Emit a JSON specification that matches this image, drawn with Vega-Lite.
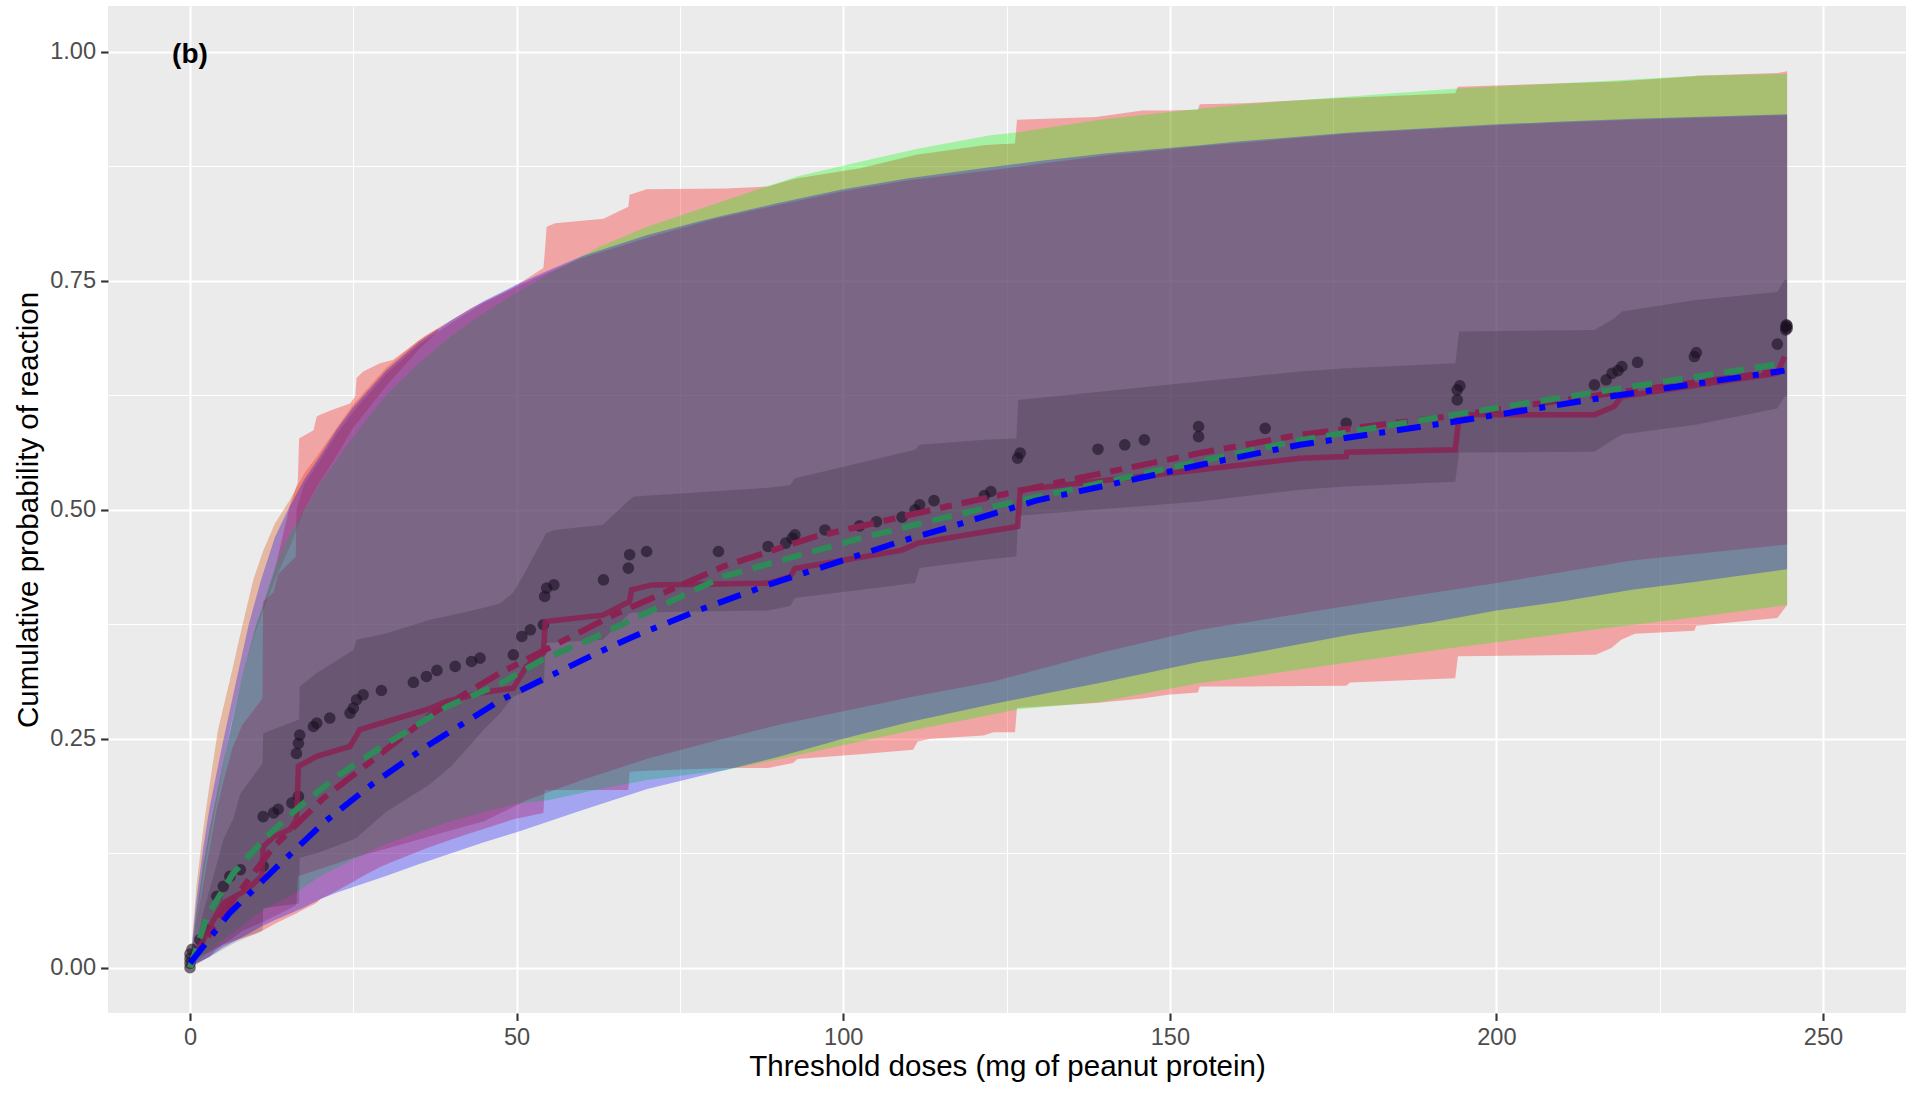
{
  "$schema": "https://vega.github.io/schema/vega-lite/v6.json",
  "width": 1798,
  "height": 1007,
  "autosize": {"type": "none"},
  "padding": {"left": 108, "top": 6, "right": 2, "bottom": 80},
  "background": "#FFFFFF",
  "config": {
    "view": {"fill": "#EBEBEB", "stroke": null},
    "font": "Liberation Sans",
    "axis": {
      "domain": false,
      "gridColor": "#FFFFFF",
      "tickColor": "#333333",
      "tickWidth": 2.1,
      "tickSize": 7.4,
      "labelColor": "#4D4D4D",
      "labelFont": "Liberation Sans",
      "labelFontSize": 23.6,
      "titleFont": "Liberation Sans",
      "titleFontSize": 29.5,
      "titleFontWeight": "normal",
      "titleColor": "#000000",
      "labelOverlap": false,
      "labelFlush": false
    }
  },
  "datasets": {
    "peach": [
      {"dose": 0, "lower": 0, "prob": 0}, {"dose": 1, "lower": 0.05, "prob": 0.09}, {"dose": 2, "lower": 0.1, "prob": 0.15},
      {"dose": 3, "lower": 0.14, "prob": 0.2}, {"dose": 4.3, "lower": 0.19, "prob": 0.26}, {"dose": 6.1, "lower": 0.26, "prob": 0.314},
      {"dose": 7.9, "lower": 0.314, "prob": 0.37}, {"dose": 9.7, "lower": 0.36, "prob": 0.424}, {"dose": 11.2, "lower": 0.39, "prob": 0.455},
      {"dose": 13, "lower": 0.424, "prob": 0.485}, {"dose": 15.3, "lower": 0.46, "prob": 0.511}, {"dose": 17.5, "lower": 0.5, "prob": 0.54},
      {"dose": 19.4, "lower": 0.525, "prob": 0.558}, {"dose": 22.5, "lower": 0.56, "prob": 0.59}, {"dose": 25, "lower": 0.59, "prob": 0.615},
      {"dose": 30, "lower": 0.635, "prob": 0.655}, {"dose": 35, "lower": 0.675, "prob": 0.685}, {"dose": 38, "lower": 0.695, "prob": 0.698}
    ],
    "red": [
      {"dose": 0, "lower": 0, "prob": 0}, {"dose": 0.5, "lower": 0.009, "prob": 0.03}, {"dose": 1, "lower": 0.011, "prob": 0.06},
      {"dose": 2, "lower": 0.014, "prob": 0.11}, {"dose": 3, "lower": 0.017, "prob": 0.15}, {"dose": 5, "lower": 0.025, "prob": 0.22},
      {"dose": 7.9, "lower": 0.032, "prob": 0.314}, {"dose": 10, "lower": 0.037, "prob": 0.37}, {"dose": 11.2, "lower": 0.041, "prob": 0.395},
      {"dose": 13, "lower": 0.048, "prob": 0.435}, {"dose": 15.3, "lower": 0.056, "prob": 0.505}, {"dose": 16.5, "lower": 0.06, "prob": 0.53},
      {"dose": 16.7, "lower": 0.061, "prob": 0.578}, {"dose": 18.9, "lower": 0.069, "prob": 0.587}, {"dose": 19.4, "lower": 0.071, "prob": 0.602},
      {"dose": 20, "lower": 0.075, "prob": 0.604}, {"dose": 21.7, "lower": 0.081, "prob": 0.609}, {"dose": 24.5, "lower": 0.092, "prob": 0.616},
      {"dose": 25.3, "lower": 0.095, "prob": 0.624}, {"dose": 25.5, "lower": 0.096, "prob": 0.644}, {"dose": 26.5, "lower": 0.1, "prob": 0.651},
      {"dose": 29.1, "lower": 0.11, "prob": 0.66}, {"dose": 31.1, "lower": 0.116, "prob": 0.664}, {"dose": 36, "lower": 0.13, "prob": 0.69},
      {"dose": 40, "lower": 0.14, "prob": 0.707}, {"dose": 43, "lower": 0.147, "prob": 0.72}, {"dose": 49.5, "lower": 0.162, "prob": 0.743},
      {"dose": 54.1, "lower": 0.169, "prob": 0.764}, {"dose": 54.3, "lower": 0.194, "prob": 0.78}, {"dose": 54.6, "lower": 0.194, "prob": 0.809},
      {"dose": 55.9, "lower": 0.194, "prob": 0.813}, {"dose": 63.3, "lower": 0.194, "prob": 0.818}, {"dose": 67.1, "lower": 0.194, "prob": 0.831},
      {"dose": 67.3, "lower": 0.214, "prob": 0.844}, {"dose": 69.9, "lower": 0.215, "prob": 0.85}, {"dose": 82, "lower": 0.218, "prob": 0.851},
      {"dose": 88.5, "lower": 0.218, "prob": 0.853}, {"dose": 92.3, "lower": 0.2235, "prob": 0.861}, {"dose": 93, "lower": 0.228, "prob": 0.862},
      {"dose": 102.6, "lower": 0.233, "prob": 0.873}, {"dose": 110.7, "lower": 0.238, "prob": 0.887}, {"dose": 111.4, "lower": 0.247, "prob": 0.888},
      {"dose": 113.4, "lower": 0.25, "prob": 0.89}, {"dose": 121.5, "lower": 0.2535, "prob": 0.898}, {"dose": 123, "lower": 0.257, "prob": 0.899},
      {"dose": 126.3, "lower": 0.257, "prob": 0.9}, {"dose": 126.6, "lower": 0.2835, "prob": 0.926}, {"dose": 138.7, "lower": 0.289, "prob": 0.929},
      {"dose": 145.8, "lower": 0.294, "prob": 0.936}, {"dose": 149.7, "lower": 0.298, "prob": 0.936}, {"dose": 154.3, "lower": 0.3006, "prob": 0.937},
      {"dose": 154.6, "lower": 0.307, "prob": 0.943}, {"dose": 161.4, "lower": 0.307, "prob": 0.944}, {"dose": 177, "lower": 0.3078, "prob": 0.95},
      {"dose": 177.6, "lower": 0.3115, "prob": 0.95}, {"dose": 193.7, "lower": 0.316, "prob": 0.955}, {"dose": 194.1, "lower": 0.34, "prob": 0.962},
      {"dose": 215.2, "lower": 0.3417, "prob": 0.967}, {"dose": 217.6, "lower": 0.349, "prob": 0.9675}, {"dose": 219.1, "lower": 0.358, "prob": 0.968},
      {"dose": 221.2, "lower": 0.3646, "prob": 0.969}, {"dose": 230.3, "lower": 0.368, "prob": 0.9736}, {"dose": 230.6, "lower": 0.3734, "prob": 0.974},
      {"dose": 243, "lower": 0.3818, "prob": 0.977}, {"dose": 244.5, "lower": 0.396, "prob": 0.979}
    ],
    "green": [
      {"dose": 0, "lower": 0, "prob": 0}, {"dose": 1, "lower": 0.006, "prob": 0.062}, {"dose": 2, "lower": 0.012, "prob": 0.112},
      {"dose": 3, "lower": 0.018, "prob": 0.152}, {"dose": 5, "lower": 0.03, "prob": 0.222}, {"dose": 7.9, "lower": 0.045, "prob": 0.316},
      {"dose": 10, "lower": 0.057, "prob": 0.372}, {"dose": 13, "lower": 0.07, "prob": 0.437}, {"dose": 15, "lower": 0.077, "prob": 0.47},
      {"dose": 17.5, "lower": 0.088, "prob": 0.5}, {"dose": 20, "lower": 0.1, "prob": 0.53}, {"dose": 25, "lower": 0.118, "prob": 0.58},
      {"dose": 30, "lower": 0.135, "prob": 0.625}, {"dose": 35, "lower": 0.148, "prob": 0.66}, {"dose": 40, "lower": 0.16, "prob": 0.69},
      {"dose": 45, "lower": 0.17, "prob": 0.715}, {"dose": 50, "lower": 0.179, "prob": 0.737}, {"dose": 55, "lower": 0.183, "prob": 0.758},
      {"dose": 62.8, "lower": 0.195, "prob": 0.7875}, {"dose": 70, "lower": 0.205, "prob": 0.809}, {"dose": 82, "lower": 0.216, "prob": 0.838},
      {"dose": 87.8, "lower": 0.224, "prob": 0.852}, {"dose": 92.9, "lower": 0.232, "prob": 0.864}, {"dose": 102.6, "lower": 0.247, "prob": 0.88},
      {"dose": 111.2, "lower": 0.26, "prob": 0.894}, {"dose": 122.5, "lower": 0.276, "prob": 0.909}, {"dose": 126.5, "lower": 0.282, "prob": 0.912},
      {"dose": 139.3, "lower": 0.29, "prob": 0.926}, {"dose": 154.6, "lower": 0.311, "prob": 0.938}, {"dose": 161.4, "lower": 0.317, "prob": 0.943},
      {"dose": 177, "lower": 0.333, "prob": 0.951}, {"dose": 194, "lower": 0.35, "prob": 0.96}, {"dose": 216, "lower": 0.37, "prob": 0.968},
      {"dose": 230.7, "lower": 0.383, "prob": 0.974}, {"dose": 244.5, "lower": 0.396, "prob": 0.976}
    ],
    "blue": [
      {"dose": 0, "lower": 0, "prob": 0}, {"dose": 0.5, "lower": 0.003, "prob": 0.04}, {"dose": 1, "lower": 0.005, "prob": 0.075},
      {"dose": 2, "lower": 0.008, "prob": 0.13}, {"dose": 3, "lower": 0.012, "prob": 0.175}, {"dose": 5, "lower": 0.022, "prob": 0.245},
      {"dose": 7.1, "lower": 0.03, "prob": 0.314}, {"dose": 9, "lower": 0.037, "prob": 0.375}, {"dose": 10.9, "lower": 0.045, "prob": 0.424},
      {"dose": 13, "lower": 0.052, "prob": 0.47}, {"dose": 15, "lower": 0.058, "prob": 0.5}, {"dose": 17.5, "lower": 0.066, "prob": 0.533},
      {"dose": 20, "lower": 0.075, "prob": 0.56}, {"dose": 22.5, "lower": 0.082, "prob": 0.588}, {"dose": 25, "lower": 0.088, "prob": 0.612},
      {"dose": 30, "lower": 0.1, "prob": 0.652}, {"dose": 35, "lower": 0.113, "prob": 0.683}, {"dose": 40, "lower": 0.125, "prob": 0.707},
      {"dose": 45, "lower": 0.137, "prob": 0.728}, {"dose": 50, "lower": 0.148, "prob": 0.746}, {"dose": 55, "lower": 0.16, "prob": 0.762},
      {"dose": 60, "lower": 0.172, "prob": 0.777}, {"dose": 70, "lower": 0.195, "prob": 0.8}, {"dose": 78, "lower": 0.209, "prob": 0.815},
      {"dose": 82, "lower": 0.216, "prob": 0.822}, {"dose": 90, "lower": 0.23, "prob": 0.835}, {"dose": 100, "lower": 0.25, "prob": 0.85},
      {"dose": 110, "lower": 0.268, "prob": 0.862}, {"dose": 122.4, "lower": 0.287, "prob": 0.874}, {"dose": 130, "lower": 0.298, "prob": 0.881},
      {"dose": 140, "lower": 0.312, "prob": 0.889}, {"dose": 154.6, "lower": 0.334, "prob": 0.898}, {"dose": 160, "lower": 0.34, "prob": 0.902},
      {"dose": 177.6, "lower": 0.3635, "prob": 0.912}, {"dose": 190, "lower": 0.377, "prob": 0.917}, {"dose": 200, "lower": 0.39, "prob": 0.921},
      {"dose": 210, "lower": 0.4, "prob": 0.924}, {"dose": 221, "lower": 0.413, "prob": 0.927}, {"dose": 230, "lower": 0.421, "prob": 0.929},
      {"dose": 244.5, "lower": 0.435, "prob": 0.932}
    ],
    "violet": [
      {"dose": 0, "lower": 0, "prob": 0}, {"dose": 1, "lower": 0.004, "prob": 0.05}, {"dose": 2, "lower": 0.008, "prob": 0.09},
      {"dose": 3, "lower": 0.012, "prob": 0.13}, {"dose": 4, "lower": 0.02, "prob": 0.17}, {"dose": 5, "lower": 0.025, "prob": 0.2},
      {"dose": 6.5, "lower": 0.032, "prob": 0.24}, {"dose": 8, "lower": 0.04, "prob": 0.265}, {"dose": 11.1, "lower": 0.05, "prob": 0.294},
      {"dose": 11.2, "lower": 0.05, "prob": 0.4}, {"dose": 12.8, "lower": 0.056, "prob": 0.41}, {"dose": 13.5, "lower": 0.058, "prob": 0.43},
      {"dose": 16.2, "lower": 0.068, "prob": 0.449}, {"dose": 16.3, "lower": 0.07, "prob": 0.5}, {"dose": 16.5, "lower": 0.1, "prob": 0.505},
      {"dose": 17.5, "lower": 0.102, "prob": 0.528}, {"dose": 20, "lower": 0.108, "prob": 0.555}, {"dose": 22.5, "lower": 0.114, "prob": 0.583},
      {"dose": 25, "lower": 0.12, "prob": 0.607}, {"dose": 30, "lower": 0.13, "prob": 0.648}, {"dose": 35, "lower": 0.14, "prob": 0.68},
      {"dose": 40, "lower": 0.15, "prob": 0.704}, {"dose": 45, "lower": 0.16, "prob": 0.726}, {"dose": 51.6, "lower": 0.183, "prob": 0.749},
      {"dose": 60, "lower": 0.205, "prob": 0.775}, {"dose": 70.4, "lower": 0.229, "prob": 0.798}, {"dose": 80, "lower": 0.247, "prob": 0.817},
      {"dose": 90, "lower": 0.265, "prob": 0.833}, {"dose": 100, "lower": 0.28, "prob": 0.848}, {"dose": 110, "lower": 0.295, "prob": 0.86},
      {"dose": 123, "lower": 0.3126, "prob": 0.871}, {"dose": 140, "lower": 0.345, "prob": 0.887}, {"dose": 154.6, "lower": 0.369, "prob": 0.897},
      {"dose": 177.6, "lower": 0.3955, "prob": 0.911}, {"dose": 200, "lower": 0.42, "prob": 0.92}, {"dose": 221, "lower": 0.445, "prob": 0.926},
      {"dose": 244.5, "lower": 0.462, "prob": 0.931}
    ],
    "inner": [
      {"dose": 0, "lower": 0, "prob": 0}, {"dose": 0.5, "lower": 0.002, "prob": 0.007}, {"dose": 2, "lower": 0.008, "prob": 0.06},
      {"dose": 3.6, "lower": 0.014, "prob": 0.1}, {"dose": 5.1, "lower": 0.02, "prob": 0.14}, {"dose": 6.6, "lower": 0.026, "prob": 0.162},
      {"dose": 7.7, "lower": 0.03, "prob": 0.19}, {"dose": 11.1, "lower": 0.04, "prob": 0.223}, {"dose": 11.2, "lower": 0.065, "prob": 0.256},
      {"dose": 16.7, "lower": 0.07, "prob": 0.271}, {"dose": 16.8, "lower": 0.12, "prob": 0.307}, {"dose": 19.4, "lower": 0.125, "prob": 0.3217},
      {"dose": 25, "lower": 0.14, "prob": 0.347}, {"dose": 25.5, "lower": 0.142, "prob": 0.358}, {"dose": 30, "lower": 0.17, "prob": 0.365},
      {"dose": 36.7, "lower": 0.2, "prob": 0.38}, {"dose": 40, "lower": 0.22, "prob": 0.385}, {"dose": 45, "lower": 0.26, "prob": 0.393},
      {"dose": 47.5, "lower": 0.278, "prob": 0.398}, {"dose": 49.5, "lower": 0.296, "prob": 0.41}, {"dose": 50.9, "lower": 0.3, "prob": 0.427},
      {"dose": 54.2, "lower": 0.311, "prob": 0.47}, {"dose": 54.4, "lower": 0.3545, "prob": 0.474}, {"dose": 55.7, "lower": 0.355, "prob": 0.478},
      {"dose": 63.2, "lower": 0.358, "prob": 0.4836}, {"dose": 67.3, "lower": 0.387, "prob": 0.511}, {"dose": 68, "lower": 0.388, "prob": 0.5145},
      {"dose": 88.5, "lower": 0.39, "prob": 0.524}, {"dose": 91.9, "lower": 0.395, "prob": 0.527}, {"dose": 92.6, "lower": 0.4036, "prob": 0.5346},
      {"dose": 111, "lower": 0.42, "prob": 0.5655}, {"dose": 111.7, "lower": 0.4364, "prob": 0.571}, {"dose": 121.6, "lower": 0.4454, "prob": 0.5765},
      {"dose": 126.5, "lower": 0.449, "prob": 0.578}, {"dose": 126.8, "lower": 0.4936, "prob": 0.62}, {"dose": 154.6, "lower": 0.509, "prob": 0.64},
      {"dose": 169.9, "lower": 0.5218, "prob": 0.651}, {"dose": 177, "lower": 0.5255, "prob": 0.6547}, {"dose": 193.7, "lower": 0.5306, "prob": 0.66},
      {"dose": 194.3, "lower": 0.5626, "prob": 0.6947}, {"dose": 215, "lower": 0.5633, "prob": 0.6965}, {"dose": 218, "lower": 0.577, "prob": 0.709},
      {"dose": 219.2, "lower": 0.5823, "prob": 0.7165}, {"dose": 230.5, "lower": 0.593, "prob": 0.729}, {"dose": 243, "lower": 0.6106, "prob": 0.738},
      {"dose": 244.1, "lower": 0.6237, "prob": 0.751}, {"dose": 244.5, "lower": 0.624, "prob": 0.751}
    ],
    "observed": [
      {"dose": 0, "prob": 0}, {"dose": 0, "prob": 0.005}, {"dose": 0, "prob": 0.01}, {"dose": 0, "prob": 0.015}, {"dose": 0.3, "prob": 0.02},
      {"dose": 1.5, "prob": 0.0306}, {"dose": 2.6, "prob": 0.041}, {"dose": 4.1, "prob": 0.078}, {"dose": 5.1, "prob": 0.0888}, {"dose": 6.1, "prob": 0.0997},
      {"dose": 7.7, "prob": 0.107}, {"dose": 11.2, "prob": 0.111}, {"dose": 11.2, "prob": 0.165}, {"dose": 12.8, "prob": 0.169}, {"dose": 13.5, "prob": 0.173},
      {"dose": 15.6, "prob": 0.18}, {"dose": 16.6, "prob": 0.187}, {"dose": 16.3, "prob": 0.234}, {"dose": 16.6, "prob": 0.245}, {"dose": 16.8, "prob": 0.254},
      {"dose": 18.9, "prob": 0.2634}, {"dose": 19.4, "prob": 0.267}, {"dose": 21.4, "prob": 0.2726}, {"dose": 24.5, "prob": 0.278}, {"dose": 25, "prob": 0.2835},
      {"dose": 25.5, "prob": 0.2926}, {"dose": 26.5, "prob": 0.298}, {"dose": 29.3, "prob": 0.3027}, {"dose": 34.2, "prob": 0.3115}, {"dose": 36.2, "prob": 0.318},
      {"dose": 37.8, "prob": 0.3246}, {"dose": 40.6, "prob": 0.329}, {"dose": 43.1, "prob": 0.3344}, {"dose": 44.4, "prob": 0.338}, {"dose": 49.5, "prob": 0.3417},
      {"dose": 50.8, "prob": 0.3617}, {"dose": 52.1, "prob": 0.369}, {"dose": 54.1, "prob": 0.3745}, {"dose": 54.3, "prob": 0.4054}, {"dose": 54.6, "prob": 0.4145},
      {"dose": 55.7, "prob": 0.418}, {"dose": 63.3, "prob": 0.4236}, {"dose": 67.1, "prob": 0.4363}, {"dose": 67.3, "prob": 0.451}, {"dose": 69.9, "prob": 0.4545},
      {"dose": 80.9, "prob": 0.4545}, {"dose": 88.5, "prob": 0.46}, {"dose": 91.2, "prob": 0.4636}, {"dose": 92.2, "prob": 0.469}, {"dose": 92.6, "prob": 0.4727},
      {"dose": 97.2, "prob": 0.478}, {"dose": 102.5, "prob": 0.4825}, {"dose": 105.1, "prob": 0.487}, {"dose": 109, "prob": 0.492}, {"dose": 111, "prob": 0.5},
      {"dose": 111.7, "prob": 0.5055}, {"dose": 113.9, "prob": 0.51}, {"dose": 121.6, "prob": 0.5156}, {"dose": 122.6, "prob": 0.52}, {"dose": 126.7, "prob": 0.5564},
      {"dose": 127.1, "prob": 0.5619}, {"dose": 139, "prob": 0.5662}, {"dose": 143.1, "prob": 0.571}, {"dose": 146.1, "prob": 0.5764}, {"dose": 154.4, "prob": 0.58},
      {"dose": 154.4, "prob": 0.591}, {"dose": 164.6, "prob": 0.589}, {"dose": 177, "prob": 0.5946}, {"dose": 194, "prob": 0.62}, {"dose": 194, "prob": 0.631},
      {"dose": 194.4, "prob": 0.6354}, {"dose": 215, "prob": 0.6365}, {"dose": 216.8, "prob": 0.642}, {"dose": 217.7, "prob": 0.649}, {"dose": 218.6, "prob": 0.652},
      {"dose": 219.2, "prob": 0.6565}, {"dose": 221.6, "prob": 0.661}, {"dose": 230.3, "prob": 0.6674}, {"dose": 230.6, "prob": 0.6717}, {"dose": 243, "prob": 0.681},
      {"dose": 244.3, "prob": 0.6965}, {"dose": 244.3, "prob": 0.7}, {"dose": 244.4, "prob": 0.702}, {"dose": 244.5, "prob": 0.698}, {"dose": 244.5, "prob": 0.701}
    ],
    "km": [
      {"dose": 0, "prob": 0}, {"dose": 0.5, "prob": 0.01}, {"dose": 2, "prob": 0.03}, {"dose": 3.6, "prob": 0.052}, {"dose": 5.1, "prob": 0.0706},
      {"dose": 8.7, "prob": 0.085}, {"dose": 11, "prob": 0.1}, {"dose": 11.2, "prob": 0.132}, {"dose": 12.8, "prob": 0.143}, {"dose": 15.3, "prob": 0.151},
      {"dose": 16.3, "prob": 0.1616}, {"dose": 16.6, "prob": 0.22}, {"dose": 19.4, "prob": 0.2307}, {"dose": 24.5, "prob": 0.2416}, {"dose": 26, "prob": 0.26},
      {"dose": 36.2, "prob": 0.2817}, {"dose": 39.3, "prob": 0.2907}, {"dose": 44.4, "prob": 0.3}, {"dose": 49.5, "prob": 0.3053}, {"dose": 51.5, "prob": 0.329},
      {"dose": 54.1, "prob": 0.3436}, {"dose": 54.4, "prob": 0.378}, {"dose": 63.2, "prob": 0.385}, {"dose": 67.3, "prob": 0.4}, {"dose": 67.6, "prob": 0.4127},
      {"dose": 70.7, "prob": 0.418}, {"dose": 88.5, "prob": 0.42}, {"dose": 91.9, "prob": 0.427}, {"dose": 92.6, "prob": 0.436}, {"dose": 109, "prob": 0.456},
      {"dose": 111.4, "prob": 0.4636}, {"dose": 122, "prob": 0.4763}, {"dose": 126.7, "prob": 0.4818}, {"dose": 127.1, "prob": 0.5218}, {"dose": 154.6, "prob": 0.5437},
      {"dose": 169.9, "prob": 0.5564}, {"dose": 177, "prob": 0.5582}, {"dose": 177.1, "prob": 0.5629}, {"dose": 193.7, "prob": 0.5655}, {"dose": 194.3, "prob": 0.6037},
      {"dose": 215, "prob": 0.6037}, {"dose": 218, "prob": 0.6128}, {"dose": 219.2, "prob": 0.6237}, {"dose": 229.3, "prob": 0.6346}, {"dose": 243, "prob": 0.6492},
      {"dose": 244.1, "prob": 0.6674}
    ],
    "fit_red": [
      {"dose": 0, "prob": 0}, {"dose": 0.5, "prob": 0.009}, {"dose": 4.6, "prob": 0.055}, {"dose": 12.8, "prob": 0.132}, {"dose": 20.4, "prob": 0.185},
      {"dose": 29.1, "prob": 0.233}, {"dose": 37.2, "prob": 0.278}, {"dose": 47.5, "prob": 0.322}, {"dose": 64.8, "prob": 0.385}, {"dose": 81.6, "prob": 0.438},
      {"dose": 95.3, "prob": 0.47}, {"dose": 115.8, "prob": 0.5036}, {"dose": 136.3, "prob": 0.535}, {"dose": 154.6, "prob": 0.562}, {"dose": 169.9, "prob": 0.582},
      {"dose": 193.7, "prob": 0.603}, {"dose": 217.4, "prob": 0.627}, {"dose": 244.1, "prob": 0.652}
    ],
    "fit_green": [
      {"dose": 0, "prob": 0}, {"dose": 2.6, "prob": 0.056}, {"dose": 6.6, "prob": 0.103}, {"dose": 11.7, "prob": 0.143}, {"dose": 16.8, "prob": 0.176},
      {"dose": 22.5, "prob": 0.209}, {"dose": 29.1, "prob": 0.24}, {"dose": 39.3, "prob": 0.285}, {"dose": 47.5, "prob": 0.31}, {"dose": 54.1, "prob": 0.337},
      {"dose": 61.1, "prob": 0.358}, {"dose": 81.6, "prob": 0.427}, {"dose": 102.1, "prob": 0.468}, {"dose": 115.8, "prob": 0.492}, {"dose": 122.6, "prob": 0.503},
      {"dose": 154.6, "prob": 0.553}, {"dose": 169.9, "prob": 0.576}, {"dose": 193.7, "prob": 0.604}, {"dose": 217.4, "prob": 0.631}, {"dose": 244.1, "prob": 0.66}
    ],
    "fit_blue": [
      {"dose": 0, "prob": 0.005}, {"dose": 6.1, "prob": 0.06}, {"dose": 13.3, "prob": 0.11}, {"dose": 20.4, "prob": 0.158}, {"dose": 28.1, "prob": 0.2016},
      {"dose": 36.2, "prob": 0.2416}, {"dose": 47.5, "prob": 0.292}, {"dose": 62.3, "prob": 0.3436}, {"dose": 68, "prob": 0.362}, {"dose": 78.1, "prob": 0.391},
      {"dose": 88.5, "prob": 0.418}, {"dose": 109, "prob": 0.466}, {"dose": 115.8, "prob": 0.48}, {"dose": 129.5, "prob": 0.51}, {"dose": 154.6, "prob": 0.549},
      {"dose": 169.9, "prob": 0.571}, {"dose": 193.7, "prob": 0.5964}, {"dose": 217.4, "prob": 0.6237}, {"dose": 244.1, "prob": 0.652}
    ],
    "tag": [{"dose": 0, "prob": 0.997, "label": "(b)"}]
  },
  "encoding": {
    "x": {
      "field": "dose", "type": "quantitative",
      "scale": {"domain": [-12.553, 262.7], "nice": false, "zero": false},
      "axis": {
        "title": "Threshold doses (mg of peanut protein)",
        "values": [0, 25, 50, 75, 100, 125, 150, 175, 200, 225, 250],
        "labelExpr": "datum.value % 50 === 0 ? datum.label : ''",
        "gridWidth": {"condition": {"test": "datum.value % 50 !== 0", "value": 1.05}, "value": 2.1},
        "tickOpacity": {"condition": {"test": "datum.value % 50 !== 0", "value": 0}, "value": 1},
        "labelPadding": 5,
        "titlePadding": 3
      }
    },
    "y": {
      "field": "prob", "type": "quantitative",
      "scale": {"domain": [-0.0495, 1.0502], "nice": false, "zero": false},
      "axis": {
        "title": "Cumulative probability of reaction",
        "values": [0, 0.125, 0.25, 0.375, 0.5, 0.625, 0.75, 0.875, 1],
        "format": ".2f",
        "labelExpr": "datum.value * 4 % 1 === 0 ? datum.label : ''",
        "gridWidth": {"condition": {"test": "datum.value * 4 % 1 !== 0", "value": 1.05}, "value": 2.1},
        "tickOpacity": {"condition": {"test": "datum.value * 4 % 1 !== 0", "value": 0}, "value": 1},
        "labelPadding": 5,
        "titlePadding": 6
      }
    }
  },
  "layer": [
    {"data": {"name": "peach"}, "mark": {"type": "area", "color": "#E08557", "opacity": 0.5}, "encoding": {"y2": {"field": "lower"}}},
    {"data": {"name": "red"}, "mark": {"type": "area", "color": "#FF0000", "opacity": 0.3}, "encoding": {"y2": {"field": "lower"}}},
    {"data": {"name": "green"}, "mark": {"type": "area", "color": "#00FF00", "opacity": 0.3}, "encoding": {"y2": {"field": "lower"}}},
    {"data": {"name": "blue"}, "mark": {"type": "area", "color": "#0000FF", "opacity": 0.3}, "encoding": {"y2": {"field": "lower"}}},
    {"data": {"name": "violet"}, "mark": {"type": "area", "color": "#8B2252", "opacity": 0.3}, "encoding": {"y2": {"field": "lower"}}},
    {"data": {"name": "inner"}, "mark": {"type": "area", "color": "#000000", "opacity": 0.15}, "encoding": {"y2": {"field": "lower"}}},
    {"data": {"name": "observed"}, "mark": {"type": "point", "filled": true, "color": "#1A0F22", "opacity": 0.6, "size": 135, "strokeWidth": 0}},
    {"data": {"name": "km"}, "mark": {"type": "line", "color": "#8B2252", "opacity": 0.85, "strokeWidth": 5.5}},
    {"data": {"name": "fit_red"}, "mark": {"type": "line", "color": "#8B2252", "strokeWidth": 6, "strokeDash": [26, 10, 12, 10]}},
    {"data": {"name": "fit_green"}, "mark": {"type": "line", "color": "#2E8B57", "strokeWidth": 6, "strokeDash": [20, 11]}},
    {"data": {"name": "fit_blue"}, "mark": {"type": "line", "color": "#0000FF", "strokeWidth": 6, "strokeDash": [24, 12, 6, 12]}},
    {"data": {"name": "tag"}, "mark": {"type": "text", "font": "Liberation Sans", "fontWeight": "bold", "fontSize": 28, "color": "#000000", "align": "center", "baseline": "middle"}, "encoding": {"text": {"field": "label"}}}
  ]
}
